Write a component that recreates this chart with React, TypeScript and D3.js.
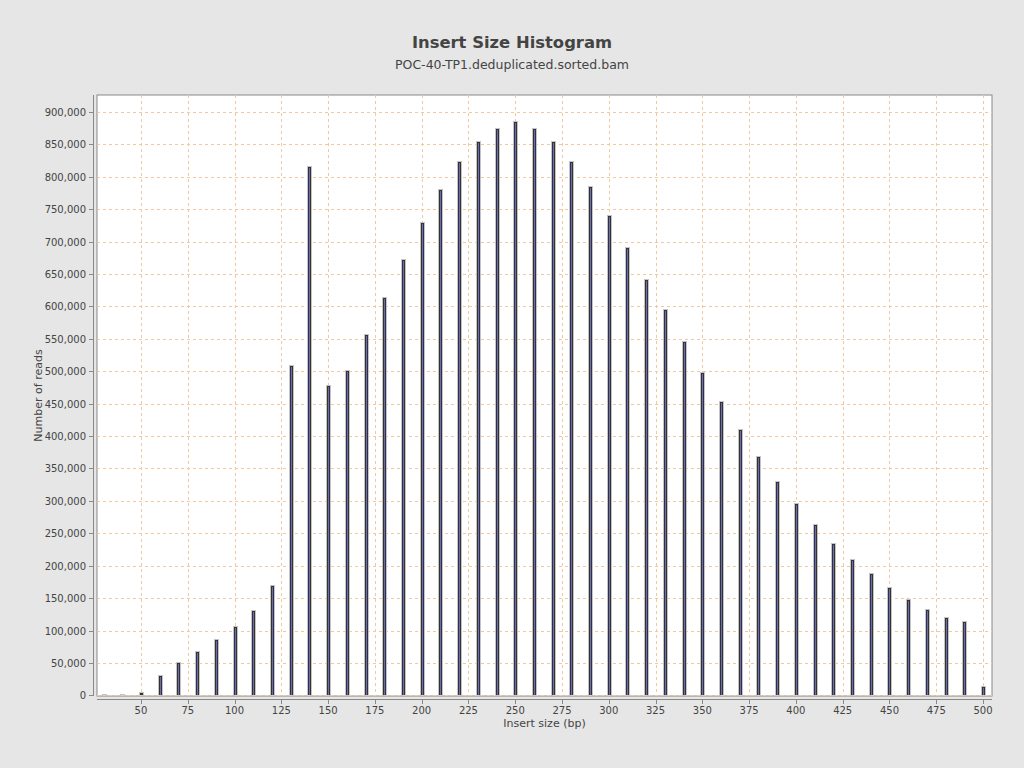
import React from "react";
import * as d3 from "d3";

const insertSizes = [30, 40, 50, 60, 70, 80, 90, 100, 110, 120, 130, 140, 150, 160, 170, 180, 190, 200, 210, 220, 230, 240, 250, 260, 270, 280, 290, 300, 310, 320, 330, 340, 350, 360, 370, 380, 390, 400, 410, 420, 430, 440, 450, 460, 470, 480, 490, 500];
const readCounts = [1000, 1000, 3000, 30000, 50000, 67000, 85000, 105000, 130000, 169000, 508000, 815000, 477000, 500000, 556000, 613000, 672000, 729000, 779000, 822000, 854000, 874000, 884000, 874000, 854000, 823000, 784000, 740000, 690000, 641000, 595000, 545000, 497000, 452000, 409000, 368000, 329000, 295000, 262000, 233000, 208000, 187000, 165000, 147000, 131000, 119000, 113000, 12500];
const xTicks = [50, 75, 100, 125, 150, 175, 200, 225, 250, 275, 300, 325, 350, 375, 400, 425, 450, 475, 500];
const yTicks = d3.range(0, 900001, 50000);

const W = 1024, H = 768;
const L = 97, R = 992, T = 95, B = 696;
const FONT = "DejaVu Sans, sans-serif";

export default function App() {
  const x = d3.scaleLinear().domain([26.5, 504.8]).range([L, R]);
  const y = d3.scaleLinear().domain([-1000, 926000]).range([B, T]);
  const fmt = d3.format(",");
  return (
    <svg width={W} height={H} style={{ position: "absolute", left: 0, top: 0, background: "#e6e6e6" }}>
      <rect x={0} y={0} width={W} height={H} fill="#e6e6e6" />
      <text x={512} y={48} textAnchor="middle" fontFamily={FONT} fontWeight="bold" fontSize={16.4} fill="#444">Insert Size Histogram</text>
      <text x={512} y={69} textAnchor="middle" fontFamily={FONT} fontSize={12.5} fill="#444">POC-40-TP1.deduplicated.sorted.bam</text>
      <rect x={L} y={T} width={R - L} height={B - T} fill="#ffffff" stroke="#888" strokeWidth={1} />
      {yTicks.map((t) => (
        <line key={"gy" + t} x1={L} x2={R} y1={Math.round(y(t)) + 0.5} y2={Math.round(y(t)) + 0.5} stroke="#f3c8a0" strokeDasharray="3,3" strokeWidth={1} />
      ))}
      {xTicks.map((t) => (
        <line key={"gx" + t} y1={T} y2={B} x1={Math.round(x(t)) + 0.5} x2={Math.round(x(t)) + 0.5} stroke="#f3c8a0" strokeDasharray="3,3" strokeWidth={1} />
      ))}
      {insertSizes.map((s, i) => {
        const cx = Math.round(x(s));
        const top = Math.round(y(readCounts[i]));
        const base = Math.round(y(0));
        const h = base - top;
        return (
          <g key={"b" + s}>
            <rect x={cx - 2} y={top - 1} width={5} height={h + 1} fill="#c4c4c4" />
            <rect x={cx - 1} y={top} width={3} height={h} fill="#333333" />
            {h > 2 && <rect x={cx} y={top + 1} width={1} height={h - 1} fill="#6a6ab8" />}
          </g>
        );
      })}
      {/* y axis */}
      <line x1={93.5} x2={93.5} y1={T} y2={B} stroke="#888" />
      {yTicks.map((t) => (
        <g key={"yt" + t}>
          <line x1={89} x2={93} y1={Math.round(y(t)) + 0.5} y2={Math.round(y(t)) + 0.5} stroke="#888" />
          <text x={86} y={y(t) + 4} textAnchor="end" fontFamily={FONT} fontSize={10} fill="#444">{fmt(t)}</text>
        </g>
      ))}
      {/* x axis */}
      <line x1={L} x2={R} y1={699.5} y2={699.5} stroke="#888" />
      {xTicks.map((t) => (
        <g key={"xt" + t}>
          <line x1={Math.round(x(t)) + 0.5} x2={Math.round(x(t)) + 0.5} y1={700} y2={704} stroke="#888" />
          <text x={x(t)} y={714} textAnchor="middle" fontFamily={FONT} fontSize={10} fill="#444">{t}</text>
        </g>
      ))}
      <text x={(L + R) / 2} y={727} textAnchor="middle" fontFamily={FONT} fontSize={11} fill="#444">Insert size (bp)</text>
      <text transform={`translate(42, ${(T + B) / 2}) rotate(-90)`} textAnchor="middle" fontFamily={FONT} fontSize={11} fill="#444">Number of reads</text>
    </svg>
  );
}
